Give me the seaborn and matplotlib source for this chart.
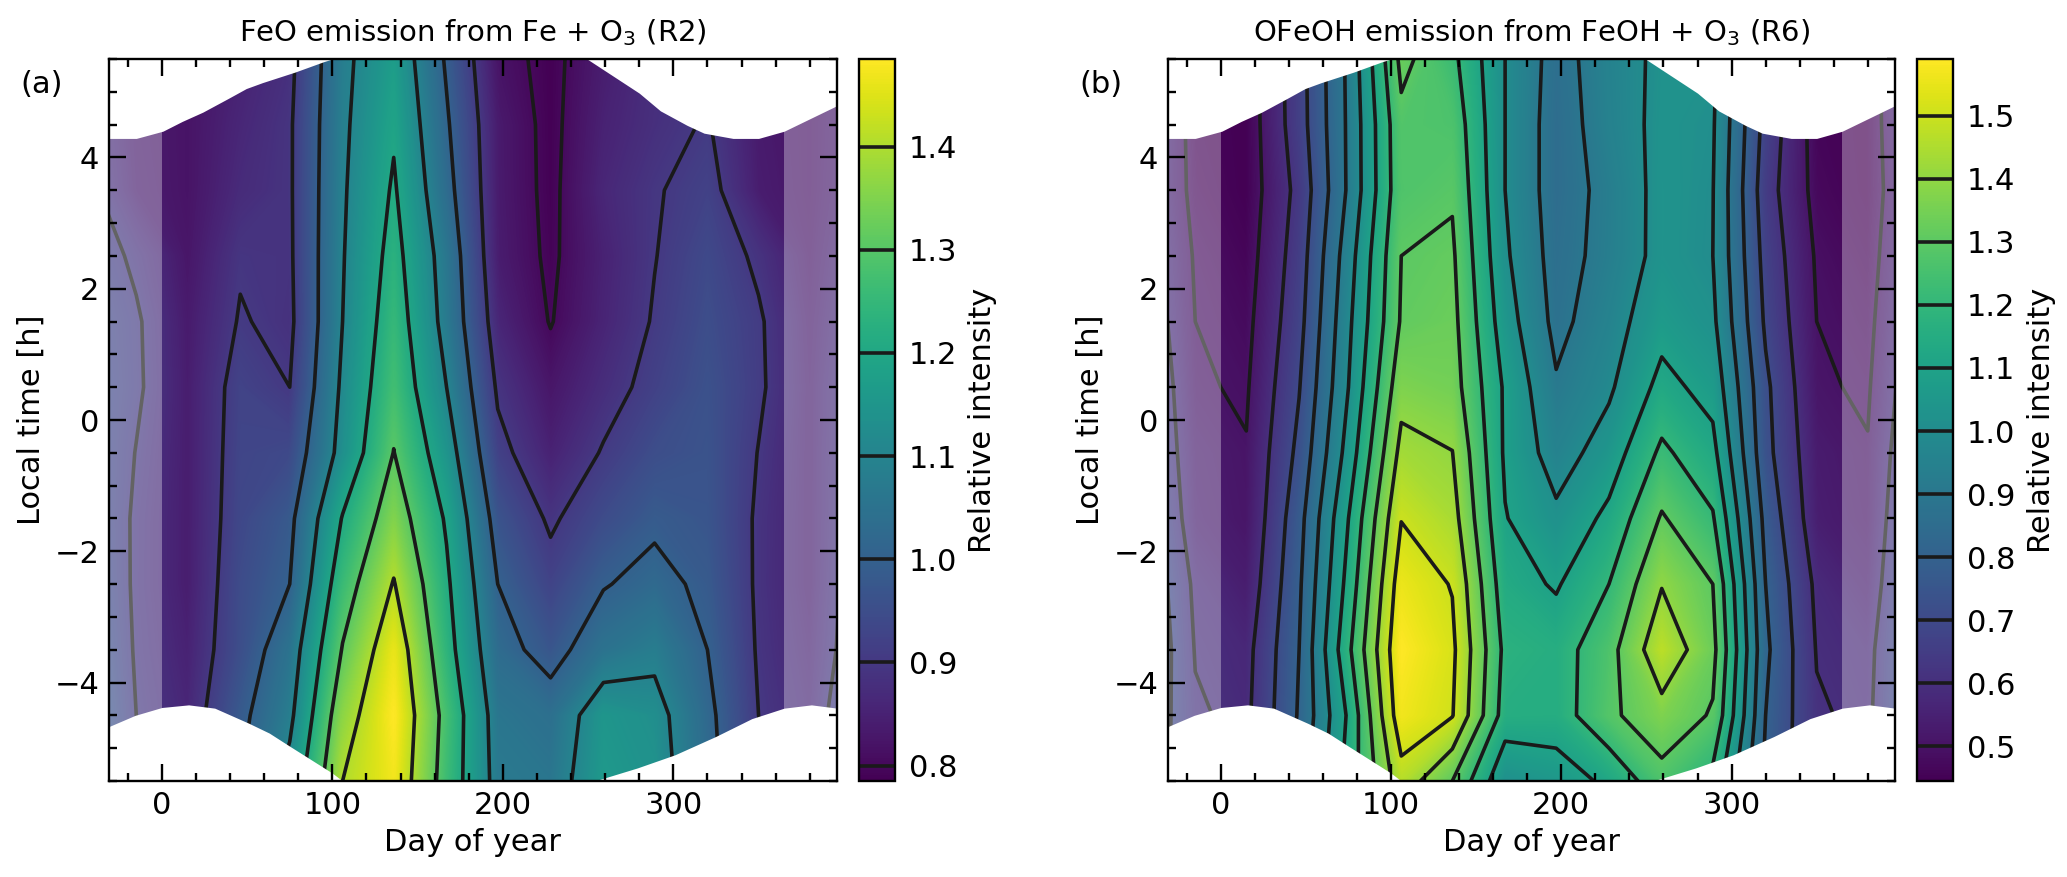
import numpy as np
import matplotlib
matplotlib.use("Agg")
import matplotlib.pyplot as plt
from matplotlib.ticker import MultipleLocator
import seaborn as sns

# month centres (day of year) and local time rows
days = [15, 46, 75, 106, 136, 167, 197, 228, 259, 289, 320, 350]
local_time = [-5.5, -4.5, -3.5, -2.5, -1.5, -0.5, 0.5, 1.5, 2.5, 3.5, 4.5, 5.5]

# one row per month, values go with local_time
feo_rel = [
    [.865, .86, .85, .84, .84, .84, .84, .835, .825, .82, .82, .82],
    [1.0, .98, .95, .945, .935, .93, .925, .905, .893, .87, .86, .85],
    [1.13, 1.08, 1.05, 1.0, .98, .94, .90, .883, .888, .89, .89, .88],
    [1.40, 1.36, 1.305, 1.256, 1.205, 1.13, 1.115, 1.10, 1.095, 1.09, 1.085, 1.08],
    [1.47, 1.485, 1.46, 1.405, 1.35, 1.302, 1.27, 1.25, 1.23, 1.21, 1.19, 1.17],
    [1.26, 1.27, 1.235, 1.215, 1.19, 1.145, 1.10, 1.07, 1.06, 1.03, 1.01, .99],
    [1.07, 1.06, 1.03, 1.0, .965, .92, .89, .86, .84, .836, .835, .82],
    [1.06, 1.04, .97, .925, .89, .85, .825, .797, .79, .787, .786, .785],
    [1.16, 1.15, 1.05, .995, .945, .905, .875, .855, .85, .86, .85, .84],
    [1.14, 1.13, 1.08, 1.025, .985, .95, .92, .905, .898, .895, .88, .875],
    [1.03, 1.02, 1.0, .982, .97, .965, .96, .95, .94, .922, .905, .895],
    [.905, .90, .8925, .889, .89, .898, .91, .908, .888, .84, .835, .83],
]
ofeoh_rel = [
    [.585, .58, .57, .535, .51, .505, .49, .475, .458, .445, .445, .45],
    [.84, .81, .80, .785, .765, .725, .695, .668, .65, .63, .656, .66],
    [1.14, 1.115, 1.18, 1.135, 1.10, 1.04, 1.0, .98, .955, .915, .916, .92],
    [1.46, 1.565, 1.59, 1.555, 1.497, 1.43, 1.365, 1.31, 1.30, 1.27, 1.276, 1.325],
    [1.30, 1.505, 1.52, 1.495, 1.44, 1.402, 1.345, 1.33, 1.315, 1.29, 1.265, 1.225],
    [1.015, 1.155, 1.175, 1.14, 1.105, 1.085, 1.085, 1.045, 1.015, 1.0, 1.0, 1.0],
    [1.05, 1.15, 1.155, 1.09, 1.02, .955, .91, .873, .86, .85, .85, .86],
    [1.12, 1.28, 1.265, 1.2, 1.125, 1.045, .985, .957, .933, .93, .95, .955],
    [1.265, 1.365, 1.47, 1.395, 1.31, 1.22, 1.13, 1.065, 1.03, 1.03, 1.025, 1.02],
    [1.17, 1.29, 1.33, 1.30, 1.21, 1.13, 1.066, 1.02, 1.0, 1.003, 1.01, 1.02],
    [.78, .80, .82, .80, .77, .73, .72, .685, .665, .643, .665, .68],
    [.62, .61, .595, .58, .54, .53, .51, .50, .49, .47, .46, .46],
]

feo_levels = [.8, .9, 1.0, 1.1, 1.2, 1.3, 1.4]
ofeoh_levels = [.5, .6, .7, .8, .9, 1.0, 1.1, 1.2, 1.3, 1.4, 1.5]

# edges of the white area where there is no night
top_left_d = [-31, -15, 0.6, 12, 24, 39, 49.5, 59, 78, 95, 100]
top_left_t = [4.29, 4.29, 4.4, 4.55, 4.69, 4.9, 5.05, 5.14, 5.3, 5.46, 5.5]
top_right_d = [249.4, 280, 292.4, 308, 318, 335, 350, 365, 396]
top_right_t = [5.5, 4.98, 4.71, 4.49, 4.37, 4.29, 4.29, 4.4, 4.79]
bot_left_d = [-31, -15.7, 0, 15.7, 31, 51, 63, 75, 86, 100, 106]
bot_left_t = [-4.67, -4.5, -4.38, -4.34, -4.39, -4.62, -4.77, -4.97, -5.15, -5.38, -5.5]
bot_right_d = [253.8, 279, 301, 325, 346, 365, 381, 396]
bot_right_t = [-5.5, -5.3, -5.1, -4.82, -4.55, -4.39, -4.34, -4.39]

sns.set_theme(style="ticks")
plt.rcParams["font.family"] = "DejaVu Sans"
plt.rcParams["axes.axisbelow"] = False
plt.rcParams["text.color"] = "black"
plt.rcParams["axes.labelcolor"] = "black"
plt.rcParams["xtick.color"] = "black"
plt.rcParams["ytick.color"] = "black"
plt.rcParams["axes.edgecolor"] = "black"
viridis = sns.color_palette("viridis", as_cmap=True)

W, H = 2067, 877
fig = plt.figure(figsize=(W / 200, H / 200), dpi=200)


def box(x0, x1, y0=59, y1=781):
    return [x0 / W, 1 - y1 / H, (x1 - x0) / W, (y1 - y0) / H]


def panel(ax, cax, rel, levels, title, tag):
    # repeat the year on both sides so the plot runs past day 0 and 365
    rel = np.array(rel)
    x = [days[-2] - 365, days[-1] - 365] + days + [days[0] + 365, days[1] + 365]
    z = np.vstack([rel[-2:], rel, rel[:2]]).T
    fine = np.linspace(rel.min(), rel.max(), 256)
    cf = ax.contourf(x, local_time, z, levels=fine, cmap=viridis, zorder=1)
    cf.set_edgecolor("face")
    # thin second layer, only for the faint moire seen in the original
    ax.contourf(x, local_time, z, levels=fine, cmap=viridis, antialiased=True, alpha=0.18, zorder=1.05)
    cl = ax.contour(x, local_time, z, levels=levels, colors="k", linewidths=1.3, zorder=1.1)
    ax.axvspan(-31, 0, color="white", alpha=0.32, lw=0, zorder=1.2)
    ax.axvspan(365, 396, color="white", alpha=0.32, lw=0, zorder=1.2)
    ax.fill_between(top_left_d, top_left_t, 5.6, color="white", lw=0, zorder=1.3)
    ax.fill_between(top_right_d, top_right_t, 5.6, color="white", lw=0, zorder=1.3)
    ax.fill_between(bot_left_d, bot_left_t, -5.6, color="white", lw=0, zorder=1.3)
    ax.fill_between(bot_right_d, bot_right_t, -5.6, color="white", lw=0, zorder=1.3)

    ax.set_xlim(-31, 396)
    ax.set_ylim(-5.5, 5.5)
    ax.xaxis.set_major_locator(MultipleLocator(100))
    ax.xaxis.set_minor_locator(MultipleLocator(20))
    ax.yaxis.set_major_locator(MultipleLocator(2))
    ax.yaxis.set_minor_locator(MultipleLocator(0.5))
    ax.tick_params(which="both", direction="in", top=True, right=True, width=0.85, labelsize=11)
    ax.tick_params(which="major", length=6.2)
    ax.tick_params(which="minor", length=3)
    for s in ax.spines.values():
        s.set_linewidth(0.85)
    ax.set_xlabel("Day of year", fontsize=11, labelpad=3)
    ax.set_ylabel("Local time [h]", fontsize=11, labelpad=3)
    ax.set_title(title, fontsize=10.5, pad=6.5)
    ax.text(-0.122, 0.964, tag, transform=ax.transAxes, fontsize=11, ha="left", va="center")

    cb = fig.colorbar(cf, cax=cax)
    cb.add_lines(cl)
    cb.set_ticks(levels)
    cb.ax.tick_params(length=0, labelsize=11, pad=5)
    cb.outline.set_linewidth(0.85)
    cb.set_label("Relative intensity", fontsize=11, labelpad=4)


ax_a = fig.add_axes(box(109, 837))
cax_a = fig.add_axes(box(859, 895))
ax_b = fig.add_axes(box(1168, 1895))
cax_b = fig.add_axes(box(1917, 1953))

panel(ax_a, cax_a, feo_rel, feo_levels, "FeO emission from Fe + O$_3$ (R2)", "(a)")
panel(ax_b, cax_b, ofeoh_rel, ofeoh_levels, "OFeOH emission from FeOH + O$_3$ (R6)", "(b)")

fig.savefig("out.png", dpi=200)
